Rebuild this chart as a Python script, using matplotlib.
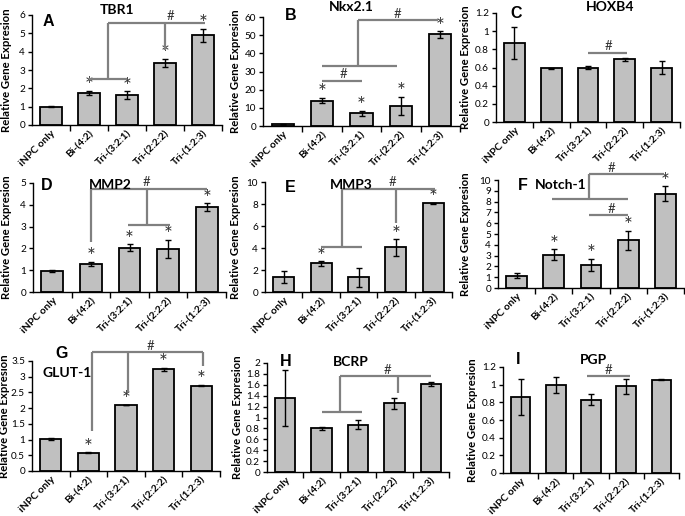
import matplotlib
matplotlib.use('Agg')
import matplotlib.pyplot as plt

plt.rcParams['font.family'] = ['Lato', 'DejaVu Sans']

categories = ['iNPC only', 'Bi-(4:2)', 'Tri-(3:2:1)', 'Tri-(2:2:2)', 'Tri-(1:2:3)']

# ---- values ----
tbr1 = [1.00, 1.75, 1.63, 3.40, 4.90]
tbr1_err = [0.02, 0.12, 0.20, 0.22, 0.35]
tbr1_star = [0, 1, 1, 1, 1]

nkx21 = [1.0, 14.0, 7.0, 11.0, 50.5]
nkx21_err = [0.3, 1.5, 1.5, 5.0, 1.8]
nkx21_star = [0, 1, 1, 1, 1]

hoxb4 = [0.87, 0.59, 0.60, 0.69, 0.60]
hoxb4_err = [0.18, 0.01, 0.015, 0.02, 0.07]
hoxb4_star = [0, 0, 0, 0, 0]

mmp2 = [0.97, 1.28, 2.03, 1.98, 3.90]
mmp2_err = [0.03, 0.10, 0.15, 0.42, 0.18]
mmp2_star = [0, 1, 1, 1, 1]

mmp3 = [1.40, 2.60, 1.35, 4.05, 8.05]
mmp3_err = [0.55, 0.20, 0.85, 0.75, 0.08]
mmp3_star = [0, 1, 0, 1, 1]

notch1 = [1.15, 3.10, 2.15, 4.40, 8.75]
notch1_err = [0.20, 0.50, 0.55, 0.90, 0.65]
notch1_star = [0, 1, 1, 1, 1]

glut1 = [1.02, 0.58, 2.10, 3.23, 2.72]
glut1_err = [0.03, 0.02, 0.01, 0.06, 0.03]
glut1_star = [0, 1, 1, 1, 1]

bcrp = [1.36, 0.80, 0.87, 1.26, 1.62]
bcrp_err = [0.52, 0.03, 0.08, 0.10, 0.04]
bcrp_star = [0, 0, 0, 0, 0]

pgp = [0.86, 1.00, 0.83, 0.98, 1.055]
pgp_err = [0.20, 0.09, 0.06, 0.08, 0.005]
pgp_star = [0, 0, 0, 0, 0]

# "#" significance brackets (polylines in data units) and "#" label spots
tbr1_br = [([1, 2], [2.5, 2.5]), ([1.5, 1.5], [2.5, 5.56]), ([1.5, 4.05], [5.56, 5.56]), ([3, 3], [5.56, 4.1])]
tbr1_hash = [(3.15, 5.95)]
nkx21_br = [([1, 2], [25, 25]), ([1, 2.9], [33, 33]), ([1.9, 1.9], [33, 58.5]), ([1.9, 3.95], [58.5, 58.5])]
nkx21_hash = [(1.55, 28.5), (2.9, 61.8)]
hoxb4_br = [([2, 3.05], [0.76, 0.76])]
hoxb4_hash = [(2.55, 0.835)]
mmp2_br = [([1, 4], [4.72, 4.72]), ([1, 1], [4.72, 2.3]), ([2.45, 2.45], [4.72, 3.07]), ([1.95, 3.05], [3.07, 3.07])]
mmp2_hash = [(2.45, 5.05)]
mmp3_br = [([1, 2.1], [4.1, 4.1]), ([1.55, 1.55], [4.1, 9.35]), ([1.55, 4.05], [9.35, 9.35]), ([3, 3], [9.35, 6.25])]
mmp3_hash = [(2.9, 10.0)]
notch1_br = [([0.95, 3.0], [8.2, 8.2]), ([1.95, 1.95], [8.2, 10.55]), ([1.95, 3.95], [10.55, 10.55]), ([1.95, 3.0], [6.76, 6.76])]
notch1_hash = [(2.55, 11.15), (2.55, 7.35)]
glut1_br = [([1.1, 4.05], [3.79, 3.79]), ([1.1, 1.1], [3.79, 1.27]), ([2.05, 2.05], [3.79, 2.5]), ([4.05, 4.05], [3.79, 3.34])]
glut1_hash = [(2.64, 3.98)]
bcrp_br = [([1, 2.1], [1.1, 1.1]), ([1.5, 1.5], [1.1, 1.76]), ([1.5, 4.0], [1.76, 1.76]), ([3.1, 3.1], [1.76, 1.45])]
bcrp_hash = [(2.8, 1.87)]
pgp_br = [([1.9, 3.1], [1.1, 1.1])]
pgp_hash = [(2.5, 1.17)]

W, H = 685, 516
fig = plt.figure(figsize=(W / 100, H / 100), dpi=100)

def px_axes(l, t, r, b):
    return fig.add_axes([l / W, 1 - b / H, (r - l) / W, (b - t) / H])

def ftext(x, y, s, **kw):
    fig.text(x / W, 1 - y / H, s, ha='center', va='center', **kw)

panels = [
    # rect (px), vals, errs, stars, ymax, ystep, brackets, hashes, letter, letter pos, title, title pos, ylabel x px
    ((32, 15, 222, 125), tbr1, tbr1_err, tbr1_star, 6, 1, tbr1_br, tbr1_hash, 'A', (48, 22), 'TBR1', (117, 10), 12),
    ((263, 17, 460, 126), nkx21, nkx21_err, nkx21_star, 60, 10, nkx21_br, nkx21_hash, 'B', (291, 15), 'Nkx2.1', (351, 7), 241),
    ((496, 13, 680, 122), hoxb4, hoxb4_err, hoxb4_star, 1.2, 0.2, hoxb4_br, hoxb4_hash, 'C', (516, 13), 'HOXB4', (610, 7), 471),
    ((33, 183, 226, 292), mmp2, mmp2_err, mmp2_star, 5, 1, mmp2_br, mmp2_hash, 'D', (47, 185), 'MMP2', (110, 185), 12),
    ((265, 182, 452, 292), mmp3, mmp3_err, mmp3_star, 10, 2, mmp3_br, mmp3_hash, 'E', (290, 187), 'MMP3', (351, 185), 241),
    ((498, 180, 684, 288), notch1, notch1_err, notch1_star, 10, 1, notch1_br, notch1_hash, 'F', (523, 185), 'Notch-1', (561, 185), 471),
    ((32, 361, 220, 471), glut1, glut1_err, glut1_star, 3.5, 0.5, glut1_br, glut1_hash, 'G', (62, 353), 'GLUT-1', (67, 373), 10),
    ((267, 363, 449, 472), bcrp, bcrp_err, bcrp_star, 2, 0.2, bcrp_br, bcrp_hash, 'H', (286, 362), 'BCRP', (351, 362), 243),
    ((503, 367, 679, 473), pgp, pgp_err, pgp_star, 1.2, 0.2, pgp_br, pgp_hash, 'I', (518, 360), 'PGP', (593, 360), 478),
]

def fmt_tick(v):
    s = ('%.1f' % v)
    if s.endswith('.0'):
        s = s[:-2]
    return s

for (rect, vals, errs, stars, ymax, ystep, brs, hashes, letter, lpos, title, tpos, ylx) in panels:
    ax = px_axes(*rect)
    x = list(range(len(categories)))
    ax.bar(x, vals, width=0.56, color='#c0c0c0', edgecolor='black', linewidth=1.3, zorder=2)
    ax.errorbar(x, vals, yerr=errs, fmt='none', ecolor='black', elinewidth=1.0, capsize=2, capthick=1.0, zorder=3)
    ax.set_xlim(-0.5, len(categories) - 0.5)
    ax.set_ylim(0, ymax)
    n = int(round(ymax / ystep))
    ticks = [i * ystep for i in range(n + 1)]
    ax.set_yticks(ticks)
    ax.set_yticklabels([fmt_tick(t) for t in ticks], fontsize=7.2)
    ax.set_xticks(x)
    ax.set_xticklabels(categories, rotation=45, ha='right', rotation_mode='anchor', fontsize=7.5, fontweight='bold')
    ax.set_xticks([i + 0.5 for i in range(len(categories))], minor=True)
    ax.tick_params(axis='x', which='major', length=0, pad=3)
    ax.tick_params(axis='x', which='minor', length=4, width=1, direction='out')
    ax.tick_params(axis='y', length=3, width=1, direction='out', pad=2)
    for s in ('top', 'right'):
        ax.spines[s].set_visible(False)
    for s in ('left', 'bottom'):
        ax.spines[s].set_linewidth(1.0)
    ax.set_ylabel('Relative Gene Expresion', fontsize=8.2, fontweight='bold')
    ax.yaxis.set_label_coords((ylx - rect[0]) / (rect[2] - rect[0]), 0.5)
    for i, (v, e, st) in enumerate(zip(vals, errs, stars)):
        if st:
            ax.annotate('*', (i, v + e), xytext=(0, -4), textcoords='offset points',
                        ha='center', va='bottom', fontsize=15, color='#333333', zorder=4,
                        annotation_clip=False)
    for xs, ys in brs:
        ax.plot(xs, ys, color='#808080', lw=1.6, clip_on=False, zorder=4, solid_capstyle='butt')
    for hx, hy in hashes:
        ax.text(hx, hy, '#', ha='center', va='center', fontsize=9.5, color='#333333', clip_on=False)
    ftext(lpos[0], lpos[1], letter, fontsize=11.5, fontweight='bold', family=['Liberation Sans', 'DejaVu Sans'])
    ftext(tpos[0], tpos[1], title, fontsize=10, fontweight='bold')

fig.savefig('out.png', dpi=100)
